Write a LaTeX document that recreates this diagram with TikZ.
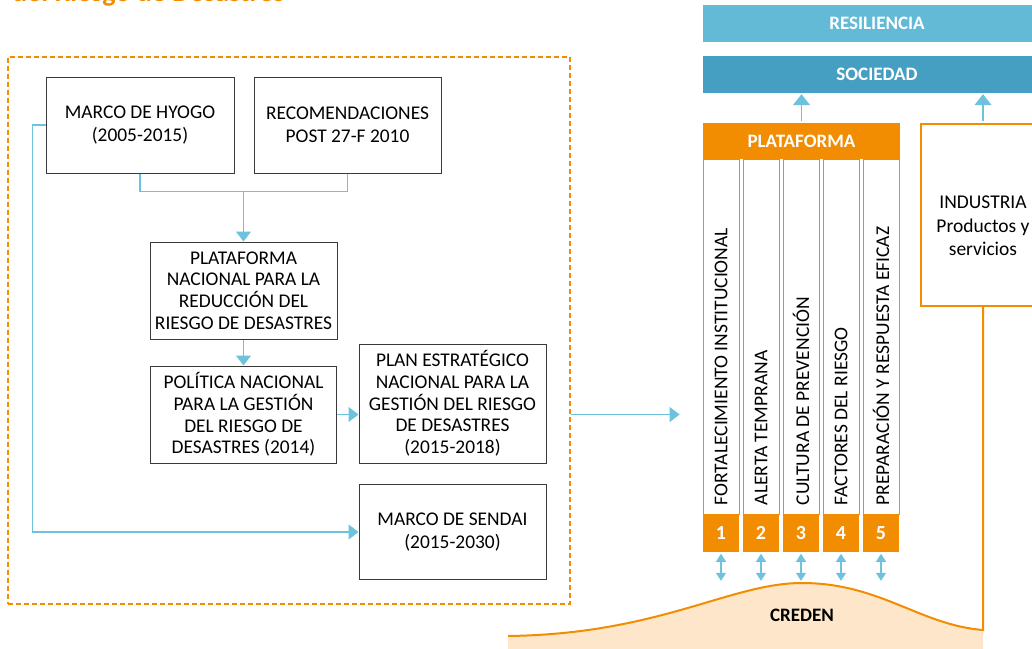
\documentclass[tikz,border=0pt]{standalone}
\usepackage{fontspec}
\setmainfont{Carlito}
\usepackage{tikz}
\usetikzlibrary{arrows.meta,positioning}
\definecolor{platorange}{HTML}{F28C00}
\definecolor{linkblue}{HTML}{6EC2DD}
\definecolor{resblue}{HTML}{63BAD6}
\definecolor{socblue}{HTML}{459FC3}
\definecolor{peach}{HTML}{FDE6C9}
\definecolor{boxgray}{HTML}{3A3A3A}

\begin{document}
\begin{tikzpicture}[x=1pt,y=-1pt,
  box/.style={draw=boxgray,line width=1pt,align=center,inner sep=0pt,font=\fontsize{19.4}{22.5}\selectfont},
  link/.style={draw=linkblue,line width=1.3pt},
  tip/.style={-{Triangle[width=15pt,length=10pt]}},
  uptip/.style={-{Triangle[width=17pt,length=11pt]}},
  dbl/.style={{Triangle[width=10pt,length=8pt]}-{Triangle[width=10pt,length=8pt]}},
  band/.style={inner sep=0pt,text=white,font=\bfseries\fontsize{19}{21}\selectfont},
  pillar/.style={draw=platorange,line width=0.8pt,fill=white,minimum width=36pt,minimum height=355pt,inner sep=0pt},
  numbox/.style={fill=platorange,text=white,minimum width=36pt,minimum height=37pt,inner sep=0pt,font=\bfseries\fontsize{20}{22}\selectfont}]
  \useasboundingbox (0,0) rectangle (1032,648);

  \node[anchor=base west,inner sep=0pt,text=platorange,font=\bfseries\fontsize{28}{30}\selectfont] (title) at (12,1.5) {del Riesgo de Desastres};

  \node[draw=platorange,line width=1.2pt,dash pattern=on 5pt off 3pt,minimum width=562pt,minimum height=547pt,inner sep=0pt] (frame) at (289,330.5) {};

  \node[box,minimum width=188pt,minimum height=96pt] (hyogo) at (140,125) {MARCO DE HYOGO\\(2005-2015)};
  \node[box,minimum width=187pt,minimum height=96pt] (recom) at (347.5,125) {RECOMENDACIONES\\POST 27-F 2010};
  \node[box,minimum width=187pt,minimum height=97pt,font=\fontsize{19.4}{21.7}\selectfont] (platnac) at (243.5,290.5) {PLATAFORMA\\NACIONAL PARA LA\\REDUCCIÓN DEL\\RIESGO DE DESASTRES};
  \node[box,minimum width=186pt,minimum height=97pt,font=\fontsize{19.4}{21.7}\selectfont] (pol) at (243.5,414.5) {POLÍTICA NACIONAL\\PARA LA GESTIÓN\\DEL RIESGO DE\\DESASTRES (2014)};
  \node[box,minimum width=187pt,minimum height=119pt,font=\fontsize{19.4}{21.7}\selectfont] (plan) at (452.5,403.5) {PLAN ESTRATÉGICO\\NACIONAL PARA LA\\GESTIÓN DEL RIESGO\\DE DESASTRES\\(2015-2018)};
  \node[box,minimum width=187pt,minimum height=95pt] (sendai) at (452.5,532) {MARCO DE SENDAI\\(2015-2030)};

  \draw[link] (hyogo.south) -- ++(0,18) -| (recom.south);
  \draw[link,tip] (platnac.north |- 0,191) -- (platnac.north);
  \draw[link,tip] (platnac.south) -- (pol.north);
  \draw[link,tip] (pol.east) -- (pol.east -| plan.west);
  \draw[link,tip] (hyogo.west) -- ++(-13,0) |- (sendai.west);

  \node[band,fill=resblue,minimum width=348pt,minimum height=37pt] (res) at (877,23.5) {RESILIENCIA};
  \node[band,fill=socblue,minimum width=348pt,minimum height=37pt] (soc) at (877,74.5) {SOCIEDAD};
  \node[band,fill=platorange,minimum width=197pt,minimum height=36pt] (plat) at (801.5,141) {PLATAFORMA};

  \foreach \i/\txt in {1/FORTALECIMIENTO INSTITUCIONAL,2/ALERTA TEMPRANA,3/CULTURA DE PREVENCIÓN,4/FACTORES DEL RIESGO,5/PREPARACIÓN Y RESPUESTA EFICAZ}{
    \node[pillar] (col\i) at ({721+40*(\i-1)},336.5) {};
    \node[numbox,below=0pt of col\i] (num\i) {\i};
    \node[rotate=90,anchor=west,inner sep=0pt,font=\fontsize{19.5}{20}\selectfont] (lab\i) at ([yshift=9pt]col\i.south) {\txt};
    \draw[link,dbl] ([yshift=-2pt]num\i.south) -- ([yshift=-29pt]num\i.south);
  }

  \draw[link,tip,shorten >=23pt] (frame.east |- pol.east) -- (col1.west |- pol.east);

  \node[draw=platorange,line width=2pt,minimum width=124pt,minimum height=182pt,
    label={[align=center,yshift=-11pt,font=\fontsize{19.5}{23.5}\selectfont]center:INDUSTRIA\\Productos y\\servicios}] (ind) at (983,215) {};

  \draw[link,uptip,shorten <=2pt,shorten >=1pt] (plat.north) -- (soc.south -| plat.north);
  \draw[link,uptip,shorten <=2pt,shorten >=1pt] (ind.north) -- (soc.south -| ind.north);

  \fill[peach] (508,636) .. controls (660,634) and (730,583) .. (802,583) .. controls (880,583) and (920,625) .. (983,630) -- (983,650) -- (508,650) -- cycle;
  \draw[platorange,line width=2pt] (508,636) .. controls (660,634) and (730,583) .. (802,583) .. controls (880,583) and (920,625) .. (983,630) -- (ind.south);
  \node[font=\bfseries\fontsize{19}{21}\selectfont] (creden) at (802,615) {CREDEN};
\end{tikzpicture}
\end{document}
